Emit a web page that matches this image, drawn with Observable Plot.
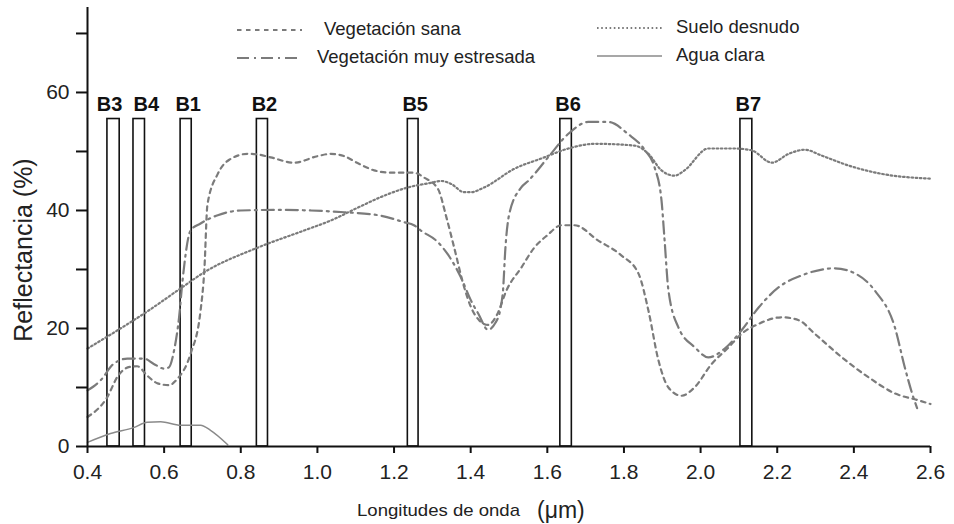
<!DOCTYPE html>
<html>
<head>
<meta charset="utf-8">
<script src="https://cdn.jsdelivr.net/npm/d3@7"></script>
<script src="https://cdn.jsdelivr.net/npm/@observablehq/plot@0.6"></script>
<style>
  html, body { margin: 0; padding: 0; background: #fff; }
  #chart { position: relative; width: 954px; height: 524px; }
  svg { font-family: "Liberation Sans", Arial, sans-serif; }
</style>
</head>
<body>
<div id="chart"></div>
<script>
// ---- Data ----
const sanaLambda = [0.40,0.45,0.48,0.51,0.53,0.556,0.583,0.612,0.635,0.669,0.695,0.705,0.713,0.74,0.77,0.818,0.844,0.878,0.939,1.0,1.035,1.07,1.106,1.148,1.192,1.252,1.278,1.315,1.336,1.357,1.383,1.401,1.422,1.445,1.47,1.493,1.532,1.566,1.6,1.637,1.671,1.733,1.793,1.838,1.864,1.89,1.916,1.95,1.984,2.029,2.073,2.107,2.152,2.212,2.256,2.298,2.369,2.439,2.507,2.57,2.6];
const sanaRefl   = [5.0,8.2,12.0,13.5,13.6,12.0,10.7,10.4,11.5,15.7,23,30,41,46.2,48.6,49.6,49.5,49,48.1,49.2,49.6,49.2,48,46.8,46.4,46.4,45.6,43.6,39,33.7,27,23.6,21.4,20.6,22.5,26.4,30.3,33.7,35.8,37.5,37.5,34.9,32.4,29.3,23,14.6,10,8.6,10,14,16.8,19.1,20.8,21.9,21.4,19.1,15.1,11.7,9,7.8,7.2];

const estresLambda = [0.40,0.434,0.468,0.504,0.547,0.573,0.6,0.612,0.626,0.639,0.648,0.669,0.695,0.74,0.8,0.9,0.983,1.07,1.158,1.227,1.252,1.27,1.315,1.341,1.375,1.401,1.42,1.445,1.465,1.478,1.485,1.49,1.501,1.532,1.55,1.602,1.655,1.707,1.76,1.81,1.855,1.88,1.898,1.906,1.916,1.942,1.985,2.02,2.063,2.107,2.152,2.204,2.264,2.35,2.404,2.455,2.507,2.533,2.552,2.565];
const estresRefl   = [9.5,11.2,14.0,14.9,14.9,14.0,13.2,13.4,16.3,21.9,28.1,36.6,37.8,39.2,40,40.1,40,39.7,39.2,38,37.5,36.6,34.6,32.5,28.6,24.7,22.5,19.8,21,23.5,27,33,39.5,43.9,45,49,53,55,55,53,50.2,47.3,41.7,35,26.5,20.2,16.8,15.1,16.6,19.7,23.6,27,29,30.2,29.3,26.4,20.2,13.4,9.0,6.5];

const sueloLambda = [0.40,0.486,0.547,0.643,0.704,0.844,0.965,1.035,1.106,1.174,1.236,1.297,1.323,1.349,1.383,1.401,1.435,1.515,1.584,1.655,1.723,1.827,1.864,1.898,1.932,1.958,2.02,2.089,2.133,2.186,2.23,2.272,2.316,2.387,2.473,2.6];
const sueloRefl   = [16.6,20,22.5,26.8,29.5,33.7,36.6,38.3,40.5,42.5,43.9,44.7,45,44.5,43.1,43.1,43.9,47.1,48.8,50.5,51.3,51,49.6,46.8,45.9,46.8,50.5,50.5,50.2,48.1,49.6,50.3,49.3,47.6,46.2,45.4];

const aguaLambda = [0.40,0.46,0.52,0.556,0.591,0.643,0.695,0.722,0.766];
const aguaRefl   = [0.7,2.2,3.2,4.1,4.2,3.6,3.6,2.7,0.3];

const bandNames = ["B3","B4","B1","B2","B5","B6","B7"];
const bandStart = [0.452,0.52,0.643,0.842,1.236,1.634,2.104];
const bandEnd   = [0.484,0.55,0.672,0.871,1.264,1.664,2.135];
const bandTop = 55.5;

const xTicks = [0.4,0.6,0.8,1.0,1.2,1.4,1.6,1.8,2.0,2.2,2.4,2.6];
const yTicks = [0,10,20,30,40,50,60,70];
const yLabels = [0,20,40,60];

const seriesNames = ["Vegetación sana","Vegetación muy estresada","Suelo desnudo","Agua clara"];

// ---- Build tables ----
const toRows = (xs, ys) => xs.map((x, i) => ({x, y: ys[i]}));
const sana = toRows(sanaLambda, sanaRefl);
const estres = toRows(estresLambda, estresRefl);
const suelo = toRows(sueloLambda, sueloRefl);
const agua = toRows(aguaLambda, aguaRefl);
const bands = bandNames.map((n, i) => ({name: n, x1: bandStart[i], x2: bandEnd[i], mid: (bandStart[i] + bandEnd[i]) / 2}));

const gray = "#7b7b7b";
const styles = [
  {stroke: gray, strokeWidth: 2.2, strokeDasharray: "4.5,4.5"},
  {stroke: gray, strokeWidth: 2.2, strokeDasharray: "12,5,2,5"},
  {stroke: gray, strokeWidth: 2.2, strokeDasharray: "1.6,2.6"},
  {stroke: "#8a8a8a", strokeWidth: 1.5}
];

const labelStyle = {x: "mid", y: bandTop, text: "name", lineAnchor: "bottom", dy: -8, fontSize: 20, fontWeight: "bold", fill: "#111"};

const plot = Plot.plot({
  width: 954,
  height: 524,
  marginLeft: 87,
  marginRight: 24,
  marginTop: 7,
  marginBottom: 78,
  style: {fontFamily: "'Liberation Sans', Arial, sans-serif", background: "#fff"},
  x: {domain: [0.4, 2.6]},
  y: {domain: [0, 74.4]},
  marks: [
    Plot.rect(bands, {x1: "x1", x2: "x2", y1: 0, y2: bandTop, fill: "none", stroke: "#111", strokeWidth: 1.6}),
    Plot.text(bands.filter(b => b.name === "B3"), {...labelStyle, dx: -4}),
    Plot.text(bands.filter(b => b.name === "B4"), {...labelStyle, dx: 7}),
    Plot.text(bands.filter(b => b.name !== "B3" && b.name !== "B4"), {...labelStyle, dx: 2}),
    Plot.line(sana, {x: "x", y: "y", curve: "monotone-x", ...styles[0]}),
    Plot.line(estres, {x: "x", y: "y", curve: "monotone-x", ...styles[1]}),
    Plot.line(suelo, {x: "x", y: "y", curve: "monotone-x", ...styles[2]}),
    Plot.line(agua, {x: "x", y: "y", curve: "monotone-x", ...styles[3]}),
    Plot.axisX({ticks: xTicks, tickFormat: d3.format(".1f"), tickSize: 7, tickPadding: 11, fontSize: 21, stroke: "#111", strokeWidth: 2, fill: "#222", label: null}),
    Plot.axisY({ticks: yTicks, tickFormat: d => yLabels.includes(d) ? String(d) : "", tickSize: 11, tickPadding: 7, fontSize: 21, stroke: "#111", strokeWidth: 2, fill: "#222", label: null}),
    Plot.ruleX([0.4], {stroke: "#111", strokeWidth: 2}),
    Plot.ruleY([0], {stroke: "#111", strokeWidth: 2, x1: 0.4, x2: 2.6})
  ]
});

document.getElementById("chart").appendChild(plot);

// ---- Axis titles and legend (drawn into the same SVG) ----
const svg = d3.select(plot);
const ff = "'Liberation Sans', Arial, sans-serif";

svg.append("text")
  .attr("transform", "translate(32,250) rotate(-90)")
  .attr("text-anchor", "middle")
  .attr("font-family", ff).attr("font-size", 25).attr("fill", "#222")
  .text("Reflectancia (%)");

svg.append("text")
  .attr("x", 357).attr("y", 516)
  .attr("text-anchor", "start")
  .attr("font-family", ff).attr("font-size", 17).attr("fill", "#222")
  .attr("textLength", 163).attr("lengthAdjust", "spacingAndGlyphs")
  .text("Longitudes de onda");
svg.append("text")
  .attr("x", 537).attr("y", 518)
  .attr("text-anchor", "start")
  .attr("font-family", ff).attr("font-size", 23).attr("fill", "#222")
  .text("(μm)");

const legendItems = [
  {name: seriesNames[0], style: styles[0], x0: 237, x1: 302, tx: 324, y: 35},
  {name: seriesNames[1], style: styles[1], x0: 237, x1: 302, tx: 317, y: 63},
  {name: seriesNames[2], style: styles[2], x0: 597, x1: 662, tx: 676, y: 33},
  {name: seriesNames[3], style: styles[3], x0: 597, x1: 662, tx: 676, y: 61}
];
const lg = svg.append("g");
legendItems.forEach(d => {
  lg.append("line")
    .attr("x1", d.x0).attr("x2", d.x1).attr("y1", d.y - 5).attr("y2", d.y - 5)
    .attr("stroke", d.style.stroke).attr("stroke-width", d.style.strokeWidth)
    .attr("stroke-dasharray", d.style.strokeDasharray || null);
  lg.append("text")
    .attr("x", d.tx).attr("y", d.y)
    .attr("text-anchor", "start")
    .attr("font-family", ff).attr("font-size", 18.5).attr("fill", "#222")
    .text(d.name);
});
</script>
</body>
</html>
